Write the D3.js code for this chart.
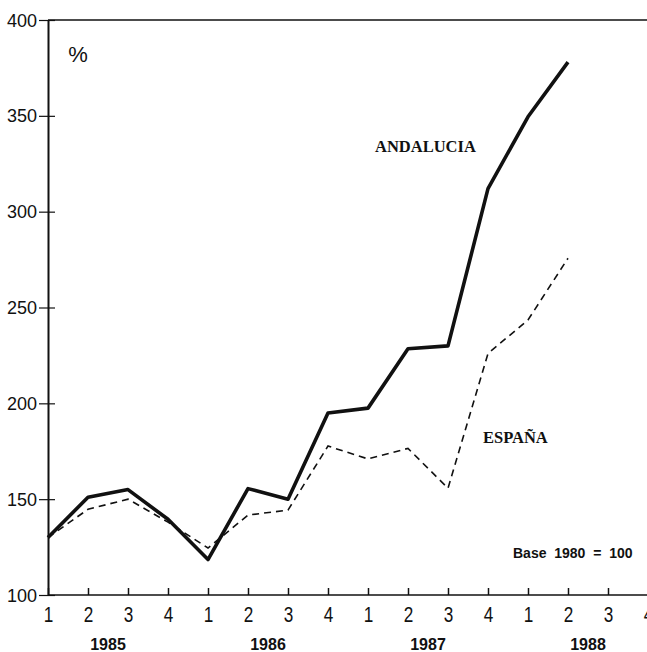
<!DOCTYPE html>
<html>
<head>
<meta charset="utf-8">
<script src="https://cdn.jsdelivr.net/npm/d3@7"></script>
<style>
  body { margin: 0; background: #fff; }
  svg { display: block; }
  text { fill: #111; }
</style>
</head>
<body>
<div id="grafico"></div>
<script>

// trimestres 1985 T1 .. 1988 T4
const trimestres = ["1","2","3","4","1","2","3","4","1","2","3","4","1","2","3","4"];
const anos = ["1985", "1986", "1987", "1988"];
const ticksY = [100, 150, 200, 250, 300, 350, 400];

const andalucia = [130, 151, 155, 139.5, 118.5, 155.5, 150, 195, 197.5, 228.5, 230, 312, 349.5, 378];
const espana = [130, 144.7, 150, 138, 124.5, 141.7, 144.3, 177.7, 171, 176.5, 155.7, 226, 243.5, 275.7];

const largura = 647, altura = 652;

const svg = d3.select("#grafico").append("svg")
    .attr("width", largura)
    .attr("height", altura);

const x = d3.scaleLinear().domain([0, 15]).range([48, 648]);
const y = d3.scaleLinear().domain([100, 400]).range([595, 20]);

const fonteNarrow = "'Liberation Sans Narrow', 'Liberation Sans', sans-serif";
const fonteSerif = "'Liberation Serif', 'DejaVu Serif', serif";

// eixo Y
const eixoY = svg.append("g")
    .attr("transform", `translate(${x(0)},0)`)
    .call(d3.axisLeft(y).tickValues(ticksY).tickSize(9).tickSizeOuter(0).tickPadding(2));
eixoY.select(".domain").attr("stroke", "#111").attr("stroke-width", 2);
eixoY.selectAll(".tick line").attr("x1", -9).attr("x2", 7).attr("stroke", "#111").attr("stroke-width", 1.2);
eixoY.selectAll(".tick text")
    .attr("font-family", fonteNarrow)
    .attr("font-size", 18)
    .attr("dy", "0.34em");

// linha superior
svg.append("line")
    .attr("x1", x(0)).attr("x2", largura)
    .attr("y1", y(400)).attr("y2", y(400))
    .attr("stroke", "#111").attr("stroke-width", 1.5);

// eixo X
const eixoX = svg.append("g")
    .attr("transform", `translate(0,${y(100)})`)
    .call(d3.axisBottom(x).tickValues(d3.range(trimestres.length))
        .tickFormat((d) => trimestres[d]).tickSize(-7).tickSizeOuter(0));
eixoX.select(".domain").attr("stroke", "#111").attr("stroke-width", 1.5).attr("d", `M${x(0)},0H${largura}`);
eixoX.selectAll(".tick line").attr("stroke", "#111").attr("stroke-width", 1.5);
eixoX.selectAll(".tick text")
    .attr("font-family", fonteNarrow)
    .attr("font-size", 22)
    .attr("y", 0)
    .attr("dy", 0)
    .attr("transform", "translate(0,27) scale(0.78,1)");

// anos
svg.append("g").selectAll("text")
    .data(anos)
    .enter().append("text")
        .attr("x", (d, i) => x(i * 4 + 1.5))
        .attr("y", 650)
        .attr("text-anchor", "middle")
        .attr("font-family", fonteNarrow)
        .attr("font-size", 16)
        .attr("font-weight", "bold")
        .text((d) => d);

// linhas
const linha = d3.line()
    .x((d, i) => x(i))
    .y((d) => y(d));

svg.append("path")
    .datum(espana)
    .attr("d", linha)
    .attr("fill", "none")
    .attr("stroke", "#111")
    .attr("stroke-width", 1.6)
    .attr("stroke-dasharray", "7,5");

svg.append("path")
    .datum(andalucia)
    .attr("d", linha)
    .attr("fill", "none")
    .attr("stroke", "#111")
    .attr("stroke-width", 3.6)
    .attr("stroke-linejoin", "round");

// textos
svg.append("text")
    .attr("x", 78).attr("y", 62)
    .attr("text-anchor", "middle")
    .attr("font-family", fonteNarrow)
    .attr("font-size", 22)
    .text("%");

svg.append("text")
    .attr("x", 375).attr("y", 152)
    .attr("font-family", fonteSerif)
    .attr("font-size", 16.5)
    .attr("font-weight", "bold")
    .text("ANDALUCIA");

svg.append("text")
    .attr("x", 483).attr("y", 443)
    .attr("font-family", fonteSerif)
    .attr("font-size", 16.5)
    .attr("font-weight", "bold")
    .text("ESPAÑA");

svg.append("text")
    .attr("x", 513).attr("y", 558)
    .attr("font-family", fonteNarrow)
    .attr("font-size", 14)
    .attr("font-weight", "bold")
    .style("white-space", "pre")
    .text("Base  1980  =  100");

</script>
</body>
</html>
